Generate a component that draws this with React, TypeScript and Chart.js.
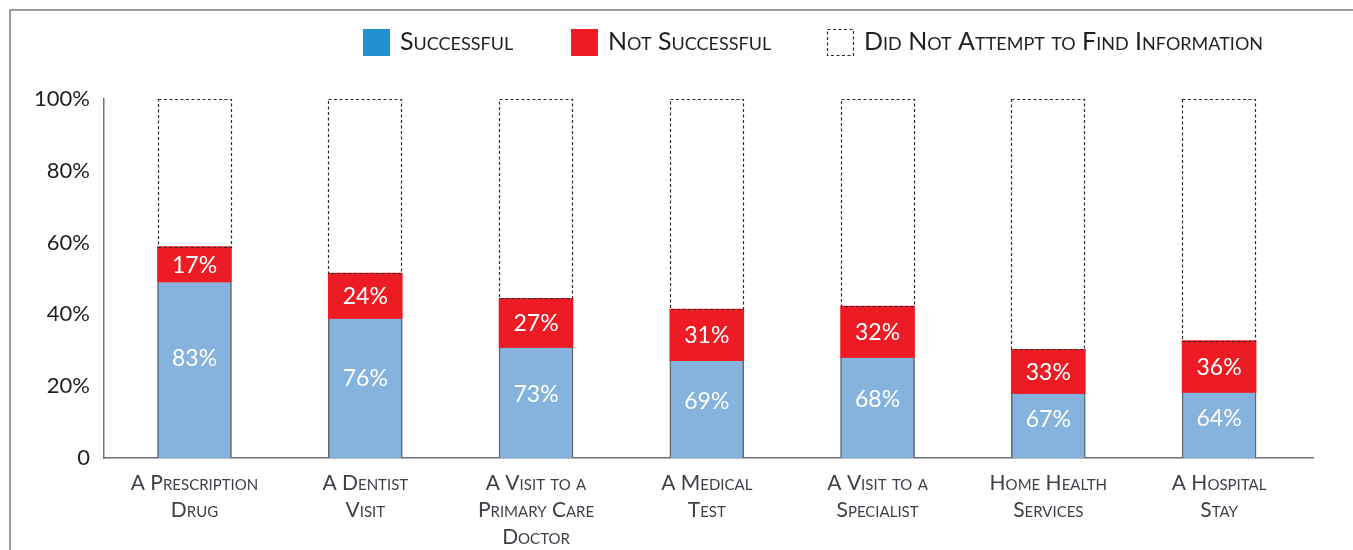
import React, { useEffect, useRef } from "react";
import { Chart, registerables } from "chart.js";

Chart.register(...registerables);

// ---- data ----
const categories: string[][] = [
  ["A Prescription", "Drug"],
  ["A Dentist", "Visit"],
  ["A Visit to a", "Primary Care", "Doctor"],
  ["A Medical", "Test"],
  ["A Visit to a", "Specialist"],
  ["Home Health", "Services"],
  ["A Hospital", "Stay"],
];
const categoryIndex = [0, 1, 2, 3, 4, 5, 6];
const successfulShare = [48.9, 38.8, 30.7, 27.0, 27.9, 17.9, 18.2];
const notSuccessfulShare = [10.0, 12.7, 13.8, 14.5, 14.4, 12.4, 14.5];
const notAttemptedShare = [41.1, 48.5, 55.5, 58.5, 57.7, 69.7, 67.3];
const successfulLabels = ["83%", "76%", "73%", "69%", "68%", "67%", "64%"];
const notSuccessfulLabels = ["17%", "24%", "27%", "31%", "32%", "33%", "36%"];
const seriesNames = [
  "Successful",
  "Not Successful",
  "Did Not Attempt to Find Information",
];
const yTickValues = [0, 20, 40, 60, 80, 100];
const yTickLabels = ["0", "20%", "40%", "60%", "80%", "100%"];

// ---- styles ----
const FAMILY = "Lato, 'Open Sans', sans-serif";
const BAR_BLUE = "#85B3DE";
const LEGEND_BLUE = "#2190D0";
const RED = "#ED1C24";
const AXIS = "#6c6f78";
const TEXT_DARK = "#231f20";
const TEXT_GRAY = "#3e4049";

const framePlugin = {
  id: "frame",
  beforeDraw(chart: any) {
    const ctx = chart.ctx;
    ctx.save();
    ctx.strokeStyle = "#7b7e86";
    ctx.lineWidth = 1.5;
    ctx.beginPath();
    ctx.moveTo(10, chart.height);
    ctx.lineTo(10, 10);
    ctx.lineTo(chart.width, 10);
    ctx.stroke();
    ctx.restore();
  },
};

const dashedPlugin = {
  id: "dashedBars",
  afterDatasetsDraw(chart: any) {
    const ctx = chart.ctx;
    const meta = chart.getDatasetMeta(2);
    ctx.save();
    ctx.strokeStyle = "#2b2b2b";
    ctx.lineWidth = 1.2;
    ctx.setLineDash([3, 2.5]);
    meta.data.forEach((el: any) => {
      const { x, y, base, width } = el.getProps(["x", "y", "base", "width"], true);
      const l = Math.round(x - width / 2) + 0.5;
      const r = Math.round(x + width / 2) - 0.5;
      const t = Math.round(y) + 0.5;
      const b = Math.round(base) + 0.5;
      ctx.strokeRect(l, t, r - l, b - t);
    });
    ctx.restore();
  },
};

const valueLabelPlugin = {
  id: "valueLabels",
  afterDatasetsDraw(chart: any) {
    const ctx = chart.ctx;
    ctx.save();
    ctx.fillStyle = "#ffffff";
    ctx.font = `23px ${FAMILY}`;
    ctx.textAlign = "center";
    ctx.textBaseline = "middle";
    const sets: [number, string[], (h: number) => number][] = [
      [0, successfulLabels, (h) => -0.05 * h - 3],
      [1, notSuccessfulLabels, () => 1],
    ];
    sets.forEach(([di, labels, off]) => {
      const meta = chart.getDatasetMeta(di);
      meta.data.forEach((el: any, i: number) => {
        const { x, y, base } = el.getProps(["x", "y", "base"], true);
        const h = base - y;
        ctx.fillText(labels[i], x, (y + base) / 2 + off(h));
      });
    });
    ctx.restore();
  },
};

const legendPlugin = {
  id: "customLegend",
  afterDraw(chart: any) {
    const ctx = chart.ctx;
    const boxX = [363, 571, 827];
    const top = 29;
    const size = 27;
    ctx.save();
    seriesNames.forEach((name, i) => {
      const x = boxX[i];
      if (i === 0) {
        ctx.fillStyle = LEGEND_BLUE;
        ctx.fillRect(x, top, size, size);
      } else if (i === 1) {
        ctx.fillStyle = RED;
        ctx.fillRect(x, top, size, size);
      } else {
        ctx.strokeStyle = "#2b2b2b";
        ctx.lineWidth = 1.2;
        ctx.setLineDash([3, 2.5]);
        ctx.strokeRect(x + 0.5, top + 0.5, size - 1, size - 1);
        ctx.setLineDash([]);
      }
      ctx.fillStyle = TEXT_DARK;
      ctx.font = `small-caps 25px ${FAMILY}`;
      ctx.textAlign = "left";
      ctx.textBaseline = "middle";
      ctx.fillText(name, x + size + 10, top + size / 2 - 1);
    });
    ctx.restore();
  },
};

export default function App() {
  const canvasRef = useRef<HTMLCanvasElement | null>(null);

  useEffect(() => {
    if (!canvasRef.current) return;
    const mk = (vals: number[]) => vals.map((v, i) => ({ x: categoryIndex[i], y: v }));
    const chart = new Chart(canvasRef.current, {
      type: "bar",
      data: {
        datasets: [
          {
            label: seriesNames[0],
            data: mk(successfulShare),
            backgroundColor: BAR_BLUE,
            borderColor: "#5d6571",
            borderWidth: { left: 1.5, right: 1.5, top: 0, bottom: 0 },
            borderSkipped: false,
            barThickness: 74,
          },
          {
            label: seriesNames[1],
            data: mk(notSuccessfulShare),
            backgroundColor: RED,
            borderWidth: 0,
            barThickness: 74,
          },
          {
            label: seriesNames[2],
            data: mk(notAttemptedShare),
            backgroundColor: "rgba(255,255,255,0)",
            borderWidth: 0,
            barThickness: 74,
          },
        ],
      } as any,
      options: {
        animation: false,
        responsive: true,
        maintainAspectRatio: false,
        layout: { padding: { top: 99, right: 40, left: 0, bottom: 0 } },
        plugins: {
          legend: { display: false },
          tooltip: { enabled: false },
        },
        scales: {
          x: {
            type: "linear",
            stacked: true,
            offset: false,
            min: -0.53,
            max: 6.55,
            grid: { display: false, drawTicks: false },
            border: { display: true, color: AXIS, width: 1.5 },
            afterBuildTicks: (axis: any) => {
              axis.ticks = categoryIndex.map((v) => ({ value: v }));
            },
            afterFit: (axis: any) => {
              axis.height = 92;
            },
            ticks: {
              autoSkip: false,
              maxRotation: 0,
              minRotation: 0,
              padding: 12,
              color: TEXT_GRAY,
              font: { family: FAMILY, size: 21, weight: "small-caps" as any, lineHeight: 1.28 },
              callback: (v: any) => categories[Math.round(Number(v))] ?? "",
            },
          },
          y: {
            stacked: true,
            min: 0,
            max: 100,
            grid: { display: false, drawTicks: false },
            border: { display: true, color: AXIS, width: 1.5 },
            afterBuildTicks: (axis: any) => {
              axis.ticks = yTickValues.map((v) => ({ value: v }));
            },
            afterFit: (axis: any) => {
              axis.width = 104;
            },
            ticks: {
              padding: 14,
              color: TEXT_DARK,
              font: { family: FAMILY, size: 22 },
              callback: (v: any) => yTickLabels[yTickValues.indexOf(Number(v))] ?? "",
            },
          },
        },
      } as any,
      plugins: [framePlugin, dashedPlugin, valueLabelPlugin, legendPlugin],
    });
    return () => chart.destroy();
  }, []);

  return (
    <div style={{ position: "absolute", left: 0, top: 0, width: 1353, height: 550 }}>
      <canvas ref={canvasRef} />
    </div>
  );
}
